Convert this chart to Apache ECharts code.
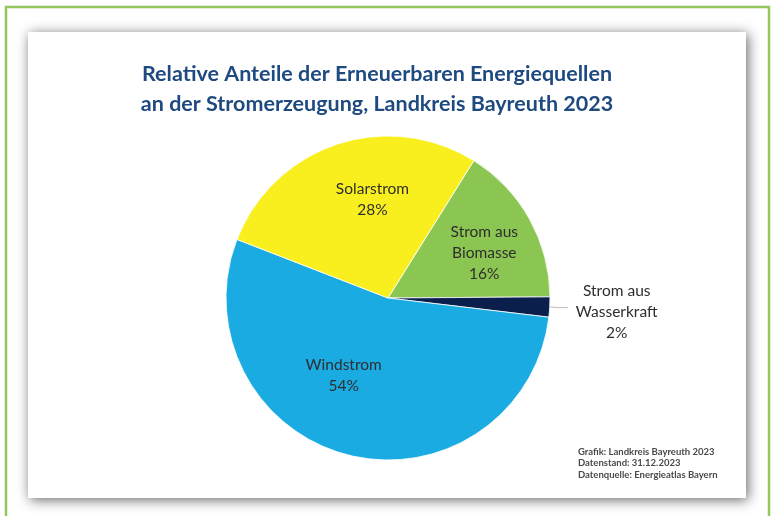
<!DOCTYPE html>
<html><head><meta charset="utf-8">
<script src="https://cdn.jsdelivr.net/npm/echarts@6/dist/echarts.min.js"></script>
<style>html,body{margin:0;padding:0;background:#fff}#c{width:776px;height:516px}</style>
</head><body><div id="c"></div>
<script>
const categories = ['Strom aus Biomasse', 'Strom aus Wasserkraft', 'Windstrom', 'Solarstrom'];
const labelTexts = ['Strom aus\nBiomasse', 'Strom aus\nWasserkraft', 'Windstrom', 'Solarstrom'];
const shares = [16, 2, 54, 28];
const colors = ['#8CC652', '#0B1F4D', '#1AABE2', '#FAEF1E'];
const titleLines = ['Relative Anteile der Erneuerbaren Energiequellen', 'an der Stromerzeugung, Landkreis Bayreuth 2023'];
const sourceLines = ['Grafik: Landkreis Bayreuth 2023', 'Datenstand: 31.12.2023', 'Datenquelle: Energieatlas Bayern'];

const labelShift = { 0: [23, -4], 1: [-2, 4], 2: [-24, -4], 3: [11, -19] };
const font = 'Lato, "Open Sans", sans-serif';

const chart = echarts.init(document.getElementById('c'), null, { renderer: 'canvas' });
chart.setOption({
  animation: false,
  backgroundColor: '#ffffff',
  title: {
    text: titleLines.join('\n'),
    left: 372, top: 54, textAlign: 'center',
    textStyle: { fontFamily: font, fontSize: 21.5, fontWeight: 'bold', color: '#1E4A80', lineHeight: 30 }
  },
  graphic: [
    { type: 'rect', z: -10, shape: { x: 6, y: 7, width: 763, height: 520 },
      style: { fill: '#fff', stroke: '#95C85C', lineWidth: 2.5 } },
    { type: 'rect', z: -9, shape: { x: 28, y: 32, width: 718, height: 466 },
      style: { fill: '#fff', shadowBlur: 12, shadowColor: 'rgba(0,0,0,0.6)', shadowOffsetX: 2, shadowOffsetY: 2 } },
    { type: 'text', left: 578, top: 446, z: 5,
      style: { text: sourceLines.join('\n'), font: 'bold 9.5px ' + font, fill: '#4a4a4a', lineHeight: 11.5 } }
  ],
  series: [{
    type: 'pie',
    center: [388, 298],
    radius: 162,
    startAngle: 58,
    clockwise: true,
    avoidLabelOverlap: false,
    itemStyle: { borderColor: '#ffffff', borderWidth: 0.8 },
    label: {
      position: 'inside',
      fontFamily: font, fontSize: 15.5, color: '#2e2e2e', lineHeight: 21,
      formatter: p => labelTexts[p.dataIndex] + '\n' + p.value + '%'
    },
    labelLayout: p => {
      const s = labelShift[p.dataIndex];
      return s ? { dx: s[0], dy: s[1] } : {};
    },
    data: categories.map((n, i) => {
      const d = { name: n, value: shares[i], itemStyle: { color: colors[i] } };
      if (i === 1) {
        d.label = {
          position: 'outside',
          formatter: '{a|Strom aus\nWasserkraft\n2%}',
          rich: { a: { width: 92, align: 'center', fontFamily: font, fontSize: 15.5, color: '#2e2e2e', lineHeight: 21 } }
        };
        d.labelLine = { show: true, length: 10, length2: 8, lineStyle: { color: '#bbb', width: 1 } };
      }
      return d;
    })
  }]
});
</script></body></html>
